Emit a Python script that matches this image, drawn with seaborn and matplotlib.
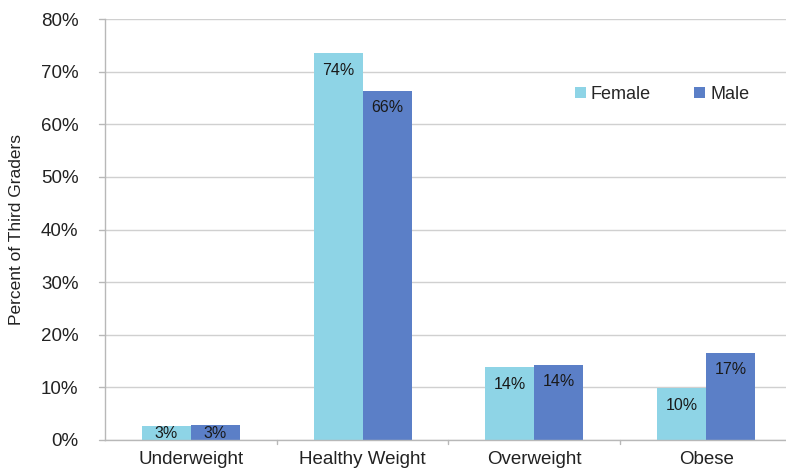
import matplotlib
matplotlib.use("Agg")
import matplotlib.pyplot as plt
import seaborn as sns
import pandas as pd
from matplotlib.ticker import PercentFormatter

categories = ["Underweight", "Healthy Weight", "Overweight", "Obese"]
female = [2.7, 73.5, 13.8, 9.9]
male = [2.8, 66.4, 14.3, 16.6]
groups = ["Female", "Male"]
colors = {"Female": "#8ED4E6", "Male": "#5B7FC7"}

df = pd.DataFrame({
    "category": categories * 2,
    "group": ["Female"] * len(categories) + ["Male"] * len(categories),
    "value": female + male,
})

sns.set_style("white")
plt.rcParams["font.family"] = ["Liberation Sans", "DejaVu Sans"]

fig = plt.figure(figsize=(7.86, 4.71), dpi=100)
ax = fig.add_axes([105 / 786, 31 / 471, 687 / 786, 421 / 471])

sns.barplot(data=df, x="category", y="value", hue="group", order=categories,
            hue_order=groups, palette=colors, width=0.57, gap=0,
            saturation=1, linewidth=0, ax=ax)

ax.set_ylim(0, 80)
ax.set_xlim(-0.5, 3.5)
ax.set_yticks(range(0, 81, 10))
ax.yaxis.set_major_formatter(PercentFormatter(decimals=0))
ax.set_ylabel("Percent of Third Graders", fontsize=12.5, color="#222222", labelpad=12)
ax.set_xlabel("")
ax.tick_params(axis="y", labelsize=13.5, colors="#222222", length=0, pad=19)
ax.tick_params(axis="x", labelsize=13.5, colors="#222222", length=0, pad=8)

ax.grid(axis="y", color="#D0D0D0", linewidth=1)
ax.set_axisbelow(True)
for side in ["top", "right"]:
    ax.spines[side].set_visible(False)
for side in ["left", "bottom"]:
    ax.spines[side].set_color("#B8B8B8")
    ax.spines[side].set_linewidth(1)

# short outward ticks on the value axis and at category boundaries
for y in range(0, 81, 10):
    ax.plot([-0.535, -0.5], [y, y], color="#B8B8B8", lw=1, clip_on=False)
for b in [0.5, 1.5, 2.5]:
    ax.plot([b, b], [0, -0.8], color="#B8B8B8", lw=1, clip_on=False)

# value labels just inside the top of each bar
for container in ax.containers:
    for patch in container:
        v = patch.get_height()
        cx = patch.get_x() + patch.get_width() / 2
        ax.text(cx, max(v - 3.25, 1.15), f"{v:.0f}%", ha="center", va="center",
                fontsize=11.5, color="#1a1a1a")

handles, labels = ax.get_legend_handles_labels()
ax.legend(handles, labels, loc="upper left", bbox_to_anchor=(0.66, 0.88),
          ncol=2, frameon=False, fontsize=13, handlelength=0.6, handleheight=0.6,
          columnspacing=2.4, handletextpad=0.3)

fig.savefig("out.png", dpi=100)
